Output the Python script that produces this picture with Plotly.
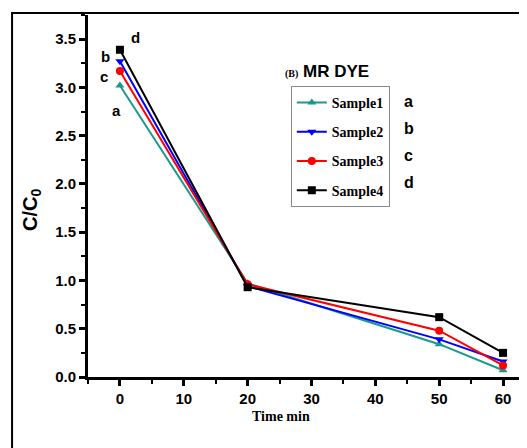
import plotly.graph_objects as go

time_min = [0, 20, 50, 60]
sample1 = [3.02, 0.97, 0.34, 0.07]
sample2 = [3.27, 0.94, 0.39, 0.16]
sample3 = [3.17, 0.96, 0.48, 0.12]
sample4 = [3.39, 0.93, 0.62, 0.25]
names = ["Sample1", "Sample2", "Sample3", "Sample4"]
letters = ["a", "b", "c", "d"]
letter_pos = [(-0.6, 2.76), (-2.3, 3.32), (-2.5, 3.11), (2.5, 3.52)]

series = [sample1, sample2, sample3, sample4]
colors = ["#1a9a8c", "#0000ff", "#ff0000", "#000000"]
symbols = ["triangle-up", "triangle-down", "circle", "square"]

fig = go.Figure()
for i in range(4):
    fig.add_trace(go.Scatter(
        x=time_min, y=series[i], name=names[i], mode="lines+markers",
        line=dict(color=colors[i], width=2),
        marker=dict(color=colors[i], symbol=symbols[i], size=8),
        legendgroup=names[i],
    ))

for (lx, ly), t in zip(letter_pos, letters):
    fig.add_annotation(x=lx, y=ly, text=t, showarrow=False, xanchor="center", yanchor="middle",
                       font=dict(family="Liberation Sans", size=15, color="black", weight="bold"))

# letters next to the legend
for i, t in enumerate(letters):
    fig.add_annotation(xref="paper", yref="paper", x=0.715, y=0.762 - i * 0.0746,
                       text=t, showarrow=False, xanchor="left", yanchor="middle",
                       font=dict(family="Liberation Sans", size=16, color="black", weight="bold"))

fig.add_annotation(xref="paper", yref="paper", x=0.445, y=0.843, xanchor="left", yanchor="middle",
                   showarrow=False,
                   text="<span style='font-family:Liberation Serif;font-size:10px'>(B)</span> MR DYE",
                   font=dict(family="Liberation Sans", size=17, color="black", weight="bold"))

# axis titles (placed off-centre like the original)
fig.add_annotation(xref="paper", yref="paper", x=-0.13, y=0.461, textangle=-90,
                   xanchor="center", yanchor="middle", showarrow=False,
                   text="C/C<sub>0</sub>",
                   font=dict(family="Liberation Sans", size=20, color="black", weight="bold"))
fig.add_annotation(xref="paper", yref="paper", x=0.44, y=-0.108,
                   xanchor="center", yanchor="middle", showarrow=False,
                   text="Time min",
                   font=dict(family="Liberation Serif", size=14, color="black", weight="bold"))

# outer frame
fig.add_shape(type="rect", xref="paper", yref="paper", x0=-0.173, x1=1.2, y0=-0.4, y1=1.0055,
              line=dict(color="black", width=2))

fig.update_layout(
    width=527, height=448,
    margin=dict(l=80, r=8, t=7, b=79),
    paper_bgcolor="white", plot_bgcolor="white",
    showlegend=True,
    legend=dict(x=0.462, y=0.804, xanchor="left", yanchor="top",
                bordercolor="#888888", borderwidth=1, bgcolor="white",
                tracegroupgap=8, itemwidth=30,
                font=dict(family="Liberation Serif", size=14, color="black", weight="bold")),
    xaxis=dict(range=[-5, 63.75], tickvals=[0, 10, 20, 30, 40, 50, 60], automargin=False,
               showline=True, linecolor="black", linewidth=3, ticks="outside",
               ticklen=6, tickwidth=3, tickcolor="black",
               minor=dict(dtick=5, tick0=0, ticks="outside", ticklen=4, tickwidth=2, tickcolor="black"),
               showgrid=False, zeroline=False,
               tickfont=dict(family="Liberation Sans", size=15, color="black", weight="bold")),
    yaxis=dict(range=[0, 3.75], tickvals=[0, 0.5, 1, 1.5, 2, 2.5, 3, 3.5], automargin=False,
               ticktext=["0.0", "0.5", "1.0", "1.5", "2.0", "2.5", "3.0", "3.5"],
               showline=True, linecolor="black", linewidth=3, ticks="outside",
               ticklen=6, tickwidth=3, tickcolor="black",
               minor=dict(dtick=0.25, tick0=0, ticks="outside", ticklen=4, tickwidth=2, tickcolor="black"),
               showgrid=False, zeroline=False,
               tickfont=dict(family="Liberation Sans", size=15, color="black", weight="bold")),
)

fig.write_html("out.html")
